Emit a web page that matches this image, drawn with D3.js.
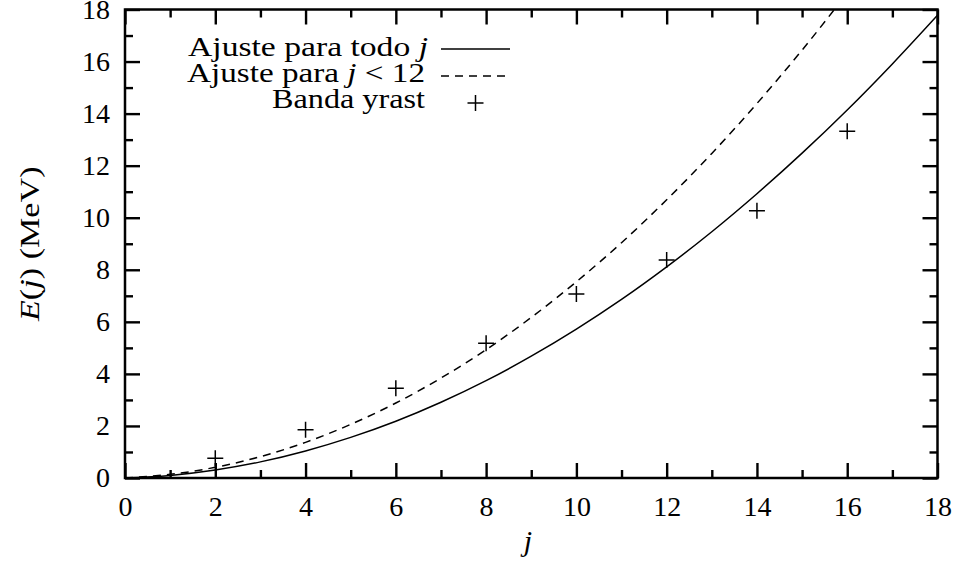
<!DOCTYPE html>
<html>
<head>
<meta charset="utf-8">
<script src="https://cdn.jsdelivr.net/npm/d3@7"></script>
<style>
  body { margin: 0; background: #fff; }
  svg text { fill: #000; }
</style>
</head>
<body>
<svg id="chart" width="959" height="564"></svg>
<script>
// yrast band points
const bandJ = [2, 4, 6, 8, 10, 12, 14, 16];
const bandE = [0.76, 1.85, 3.45, 5.18, 7.07, 8.38, 10.27, 13.32];

// fitted curves at integer j
const fitAllJ = [0, 1, 2, 3, 4, 5, 6, 7, 8, 9, 10, 11, 12, 13, 14, 15, 16, 17, 18];
const fitAllE = [0, 0.10, 0.31, 0.62, 1.04, 1.56, 2.18, 2.91, 3.74, 4.68, 5.72, 6.86, 8.11, 9.46, 10.92, 12.48, 14.14, 15.91, 17.78];
const fitLowJ = [0, 1, 2, 3, 4, 5, 6, 7, 8, 9, 10, 11, 12, 13, 14, 15, 16];
const fitLowE = [0, 0.14, 0.41, 0.82, 1.37, 2.06, 2.88, 3.84, 4.93, 6.17, 7.54, 9.04, 10.69, 12.47, 14.39, 16.44, 18.63];

const xMajor = [0, 2, 4, 6, 8, 10, 12, 14, 16, 18];
const xMinor = [1, 3, 5, 7, 9, 11, 13, 15, 17];
const yMajor = [0, 2, 4, 6, 8, 10, 12, 14, 16, 18];
const yMinor = [1, 3, 5, 7, 9, 11, 13, 15, 17];

const legendLabels = ['Ajuste para todo ', 'Ajuste para ', 'Banda yrast'];

const serif = '"Liberation Serif", "DejaVu Serif", serif';

const svg = d3.select('#chart');
const plotL = 125, plotR = 937.5, plotT = 9.5, plotB = 478;

const x = d3.scaleLinear().domain([0, 18]).range([plotL, plotR]);
const y = d3.scaleLinear().domain([0, 18]).range([plotB, plotT]);

svg.append('defs').append('clipPath').attr('id', 'plot-clip')
    .append('rect')
    .attr('x', plotL).attr('y', plotT)
    .attr('width', plotR - plotL).attr('height', plotB - plotT);

// axes with inward ticks on all four sides
function styleAxis(g) {
    g.attr('font-family', serif).attr('font-size', 28);
    g.select('.domain').remove();
    g.selectAll('.tick line').attr('stroke', '#000').attr('stroke-width', 2.4);
}

svg.append('g')
    .attr('transform', `translate(0,${plotB})`)
    .call(d3.axisBottom(x).tickValues(xMajor).tickSize(-15).tickPadding(18).tickFormat(d3.format('d')))
    .call(styleAxis);
svg.append('g')
    .attr('transform', `translate(0,${plotB})`)
    .call(d3.axisBottom(x).tickValues(xMinor).tickSize(-8).tickFormat(''))
    .call(styleAxis);
svg.append('g')
    .attr('transform', `translate(0,${plotT})`)
    .call(d3.axisTop(x).tickValues(xMajor).tickSize(-15).tickFormat(''))
    .call(styleAxis);
svg.append('g')
    .attr('transform', `translate(0,${plotT})`)
    .call(d3.axisTop(x).tickValues(xMinor).tickSize(-8).tickFormat(''))
    .call(styleAxis);

svg.append('g')
    .attr('transform', `translate(${plotL},0)`)
    .call(d3.axisLeft(y).tickValues(yMajor).tickSize(-15).tickPadding(15).tickFormat(d3.format('d')))
    .call(styleAxis);
svg.append('g')
    .attr('transform', `translate(${plotL},0)`)
    .call(d3.axisLeft(y).tickValues(yMinor).tickSize(-8).tickFormat(''))
    .call(styleAxis);
svg.append('g')
    .attr('transform', `translate(${plotR},0)`)
    .call(d3.axisRight(y).tickValues(yMajor).tickSize(-15).tickFormat(''))
    .call(styleAxis);
svg.append('g')
    .attr('transform', `translate(${plotR},0)`)
    .call(d3.axisRight(y).tickValues(yMinor).tickSize(-8).tickFormat(''))
    .call(styleAxis);

// curves
const line = d3.line()
    .x(d => x(d[0]))
    .y(d => y(d[1]))
    .curve(d3.curveMonotoneX);

const plot = svg.append('g').attr('clip-path', 'url(#plot-clip)');

plot.append('path')
    .datum(fitAllJ.map((j, i) => [j, fitAllE[i]]))
    .attr('fill', 'none')
    .attr('stroke', '#000')
    .attr('stroke-width', 1.5)
    .attr('d', line);

plot.append('path')
    .datum(fitLowJ.map((j, i) => [j, fitLowE[i]]))
    .attr('fill', 'none')
    .attr('stroke', '#000')
    .attr('stroke-width', 1.5)
    .attr('stroke-dasharray', '8,6')
    .attr('d', line);

// yrast points as plus signs
const half = 8;
const plusPath = (cx, cy) => `M${cx - half},${cy}H${cx + half}M${cx},${cy - half}V${cy + half}`;
plot.selectAll('.pt')
    .data(bandJ.map((j, i) => [j, bandE[i]]))
    .enter().append('path')
    .attr('class', 'pt')
    .attr('fill', 'none')
    .attr('stroke', '#000')
    .attr('stroke-width', 1.5)
    .attr('d', d => plusPath(x(d[0]), y(d[1])));

// frame
svg.append('rect')
    .attr('x', plotL).attr('y', plotT)
    .attr('width', plotR - plotL).attr('height', plotB - plotT)
    .attr('fill', 'none')
    .attr('stroke', '#000')
    .attr('stroke-width', 2.5);

// legend (text widened to the wider TeX face of the original)
const legend = svg.append('g').attr('font-family', serif).attr('font-size', 28);
const rowY = [56, 82, 108];
const keyY = [49, 76, 103];

const t0 = legend.append('text').attr('x', 428).attr('y', rowY[0])
    .attr('text-anchor', 'end')
    .attr('textLength', 240).attr('lengthAdjust', 'spacingAndGlyphs');
t0.append('tspan').text(legendLabels[0]);
t0.append('tspan').attr('font-style', 'italic').text('j');

const t1 = legend.append('text').attr('x', 425).attr('y', rowY[1])
    .attr('text-anchor', 'end')
    .attr('textLength', 238).attr('lengthAdjust', 'spacingAndGlyphs');
t1.append('tspan').text(legendLabels[1]);
t1.append('tspan').attr('font-style', 'italic').text('j');
t1.append('tspan').text(' < 12');

legend.append('text').attr('x', 425).attr('y', rowY[2])
    .attr('text-anchor', 'end')
    .attr('textLength', 153).attr('lengthAdjust', 'spacingAndGlyphs')
    .text(legendLabels[2]);

legend.append('line')
    .attr('x1', 441).attr('x2', 510)
    .attr('y1', keyY[0]).attr('y2', keyY[0])
    .attr('stroke', '#000').attr('stroke-width', 1.5);
legend.append('line')
    .attr('x1', 441).attr('x2', 510)
    .attr('y1', keyY[1]).attr('y2', keyY[1])
    .attr('stroke', '#000').attr('stroke-width', 1.5)
    .attr('stroke-dasharray', '8,6');
legend.append('path')
    .attr('fill', 'none').attr('stroke', '#000').attr('stroke-width', 1.5)
    .attr('d', plusPath(475.5, keyY[2]));

// axis titles
svg.append('text')
    .attr('x', 528)
    .attr('y', 551)
    .attr('text-anchor', 'middle')
    .attr('font-family', serif)
    .attr('font-size', 30)
    .attr('font-style', 'italic')
    .text('j');

const yTitle = svg.append('text')
    .attr('transform', `translate(39,${(plotT + plotB) / 2}) rotate(-90) scale(1.22,1)`)
    .attr('text-anchor', 'middle')
    .attr('font-family', serif)
    .attr('font-size', 28);
yTitle.append('tspan').attr('font-style', 'italic').text('E');
yTitle.append('tspan').text('(');
yTitle.append('tspan').attr('font-style', 'italic').text('j');
yTitle.append('tspan').text(') (MeV)');
</script>
</body>
</html>
